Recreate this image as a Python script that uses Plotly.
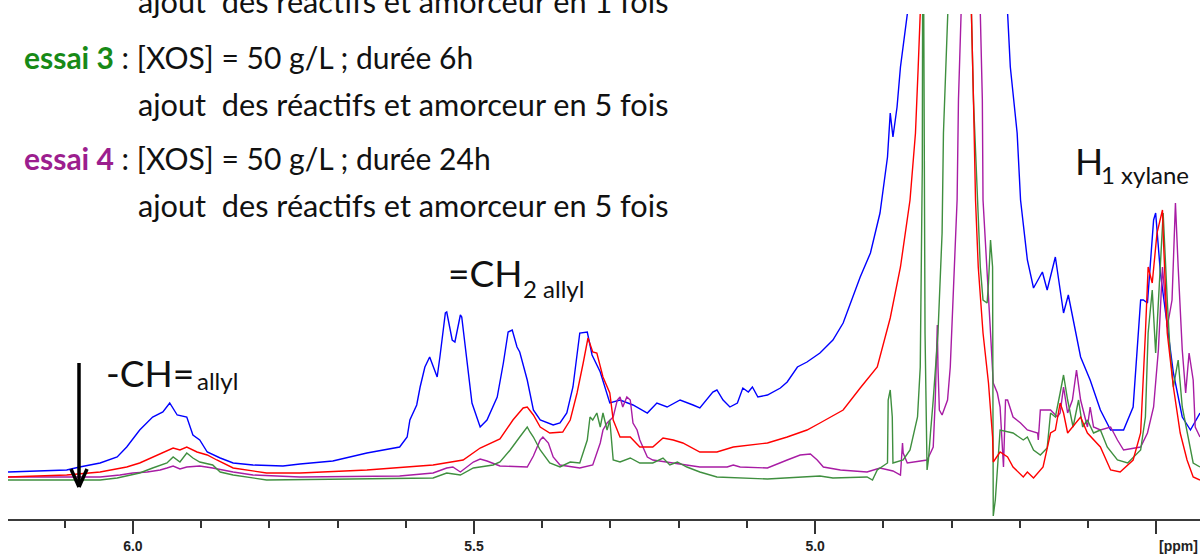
import plotly.graph_objects as go

# ---------------- data (chemical shift in ppm, intensity in arbitrary units) ----------------
blue_ppm = [6.183, 6.097, 6.078, 6.048, 6.023, 6.009, 5.990, 5.971, 5.956, 5.946, 5.935, 5.921, 5.912,
            5.902, 5.891, 5.872, 5.853, 5.824, 5.780, 5.755, 5.707, 5.657, 5.609, 5.598, 5.594, 5.584,
            5.579, 5.572, 5.565, 5.554, 5.550, 5.542, 5.540, 5.532, 5.528, 5.520, 5.518, 5.510, 5.503,
            5.491, 5.481, 5.466, 5.457, 5.450, 5.444, 5.437, 5.433, 5.422, 5.413, 5.403, 5.384, 5.374,
            5.364, 5.355, 5.345, 5.334, 5.327, 5.315, 5.301, 5.286, 5.267, 5.246, 5.232, 5.217, 5.198,
            5.179, 5.169, 5.150, 5.144, 5.135, 5.125, 5.114, 5.106, 5.098, 5.092, 5.084, 5.070, 5.051,
            5.041, 5.026, 5.012, 4.993, 4.974, 4.959, 4.946, 4.934, 4.919, 4.905, 4.894, 4.890, 4.886,
            4.880, 4.875, 4.865, 4.790, 4.718, 4.714, 4.704, 4.699, 4.689, 4.680, 4.667, 4.660, 4.648,
            4.636, 4.629, 4.611, 4.597, 4.582, 4.567, 4.548, 4.534, 4.523, 4.519, 4.513, 4.504, 4.501,
            4.494, 4.484, 4.475, 4.462, 4.450, 4.436]
blue_int = [47, 49, 52, 56, 62, 72, 89, 102, 107, 116, 104, 102, 84,
            79, 67, 61, 56, 54, 53, 55, 58, 66, 72, 82, 99, 114,
            132, 152, 162, 142, 162, 206, 207, 179, 177, 204, 202, 159, 116,
            92, 99, 122, 156, 187, 189, 172, 167, 139, 109, 99, 94, 96,
            106, 132, 186, 187, 164, 147, 116, 119, 114, 106, 116, 112, 119,
            114, 111, 127, 129, 119, 112, 116, 131, 127, 132, 122, 124, 131,
            137, 152, 157, 166, 179, 196, 219, 242, 266, 306, 362, 406, 382,
            412, 452, 506, 900, 506, 452, 386, 319, 259, 231, 247, 229, 262,
            206, 224, 162, 139, 109, 89, 89, 112, 219, 219, 216, 299, 306,
            246, 192, 146, 102, 89, 106]

red_ppm = [6.183, 6.097, 6.048, 6.009, 5.990, 5.965, 5.941, 5.931, 5.921, 5.906, 5.891, 5.877, 5.853,
           5.804, 5.755, 5.657, 5.560, 5.516, 5.491, 5.462, 5.443, 5.428, 5.422, 5.413, 5.403, 5.389,
           5.370, 5.359, 5.349, 5.340, 5.333, 5.326, 5.320, 5.311, 5.301, 5.296, 5.286, 5.271, 5.257,
           5.238, 5.223, 5.208, 5.194, 5.169, 5.144, 5.120, 5.070, 5.041, 5.012, 4.993, 4.959, 4.934,
           4.909, 4.890, 4.875, 4.861, 4.853, 4.849, 4.846, 4.809, 4.771, 4.768, 4.765, 4.761, 4.754,
           4.746, 4.740, 4.739, 4.729, 4.718, 4.710, 4.695, 4.689, 4.680, 4.666, 4.655, 4.648, 4.641,
           4.636, 4.630, 4.611, 4.601, 4.582, 4.567, 4.553, 4.534, 4.523, 4.516, 4.512, 4.506, 4.499,
           4.491, 4.490, 4.484, 4.475, 4.465, 4.455, 4.446, 4.436]
red_int = [42, 44, 47, 52, 56, 64, 71, 69, 72, 67, 64, 59, 51,
           46, 46, 49, 54, 59, 71, 80, 99, 111, 112, 104, 92, 86,
           87, 99, 126, 156, 181, 167, 166, 142, 126, 99, 82, 82, 72,
           72, 81, 79, 76, 67, 67, 72, 76, 82, 89, 96, 109, 131,
           152, 201, 252, 319, 386, 452, 506, 700, 506, 419, 319, 252, 186,
           136, 82, 57, 67, 62, 52, 42, 47, 41, 52, 86, 89, 116,
           106, 86, 102, 86, 72, 49, 47, 59, 86, 186, 252, 236, 286,
           309, 286, 186, 132, 86, 59, 42, 39]

green_ppm = [6.183, 6.048, 6.023, 5.990, 5.971, 5.950, 5.941, 5.931, 5.921, 5.912, 5.902, 5.883, 5.872,
             5.853, 5.804, 5.560, 5.540, 5.520, 5.501, 5.472, 5.462, 5.447, 5.433, 5.422, 5.418, 5.413,
             5.403, 5.389, 5.374, 5.359, 5.345, 5.334, 5.330, 5.326, 5.320, 5.315, 5.311, 5.305, 5.301,
             5.296, 5.286, 5.271, 5.257, 5.238, 5.223, 5.213, 5.202, 5.188, 5.169, 5.144, 5.070, 4.993,
             4.974, 4.924, 4.916, 4.909, 4.894, 4.893, 4.890, 4.887, 4.886, 4.871, 4.861, 4.850, 4.846,
             4.845, 4.843, 4.842, 4.840, 4.839, 4.836, 4.834, 4.831, 4.827, 4.820, 4.814, 4.812, 4.809,
             4.808, 4.790, 4.771, 4.768, 4.762, 4.758, 4.754, 4.748, 4.746, 4.743, 4.740, 4.739, 4.736,
             4.733, 4.729, 4.710, 4.695, 4.689, 4.680, 4.670, 4.660, 4.655, 4.648, 4.641, 4.636, 4.630,
             4.622, 4.614, 4.608, 4.601, 4.592, 4.582, 4.572, 4.557, 4.542, 4.523, 4.516, 4.512, 4.506,
             4.501, 4.497, 4.490, 4.484, 4.480, 4.475, 4.468, 4.462, 4.455, 4.446, 4.436]
green_int = [39, 39, 41, 46, 51, 56, 62, 57, 66, 61, 57, 54, 47,
             44, 39, 41, 46, 44, 51, 54, 57, 69, 82, 92, 87, 82,
             69, 56, 52, 57, 56, 79, 102, 99, 106, 92, 106, 89, 99,
             59, 57, 61, 56, 56, 61, 54, 57, 52, 47, 42, 40, 43,
             41, 42, 39, 49, 56, 119, 129, 102, 56, 59, 69, 102, 152,
             252, 352, 700, 419, 186, 49, 59, 86, 119, 186, 286, 386, 469,
             506, 800, 506, 419, 319, 252, 219, 216, 236, 279, 252, 3, 19,
             52, 89, 86, 79, 82, 69, 64, 71, 106, 102, 126, 144, 119,
             92, 119, 92, 99, 86, 89, 72, 59, 56, 69, 102, 186, 229,
             166, 219, 306, 219, 169, 132, 159, 112, 86, 56, 52]

purple_ppm = [6.183, 6.048, 6.019, 6.000, 5.979, 5.960, 5.950, 5.941, 5.931, 5.921, 5.902, 5.883, 5.853,
              5.824, 5.755, 5.609, 5.560, 5.540, 5.531, 5.520, 5.501, 5.491, 5.481, 5.462, 5.422, 5.413,
              5.403, 5.399, 5.391, 5.384, 5.374, 5.345, 5.326, 5.315, 5.311, 5.305, 5.296, 5.290, 5.286,
              5.282, 5.276, 5.271, 5.267, 5.261, 5.257, 5.246, 5.238, 5.217, 5.169, 5.129, 5.120, 5.110,
              5.070, 5.041, 5.022, 5.007, 4.997, 4.988, 4.963, 4.924, 4.905, 4.886, 4.875, 4.872, 4.871,
              4.865, 4.836, 4.831, 4.827, 4.824, 4.821, 4.820, 4.818, 4.814, 4.806, 4.802, 4.798, 4.792,
              4.790, 4.787, 4.773, 4.758, 4.755, 4.754, 4.748, 4.743, 4.739, 4.733, 4.729, 4.724, 4.721,
              4.718, 4.710, 4.699, 4.689, 4.674, 4.673, 4.670, 4.655, 4.645, 4.641, 4.636, 4.630, 4.623,
              4.617, 4.611, 4.601, 4.597, 4.592, 4.582, 4.567, 4.557, 4.548, 4.534, 4.523, 4.513, 4.504,
              4.497, 4.491, 4.487, 4.484, 4.477, 4.472, 4.468, 4.462, 4.457, 4.452, 4.446, 4.443, 4.436]
purple_int = [42, 42, 44, 46, 47, 49, 51, 53, 50, 52, 53, 51, 47,
              44, 42, 43, 46, 51, 52, 47, 57, 60, 58, 53, 52, 63,
              79, 82, 76, 62, 54, 51, 54, 76, 89, 96, 102, 119, 122,
              112, 122, 119, 96, 89, 79, 62, 59, 57, 52, 52, 54, 52,
              51, 59, 64, 65, 59, 52, 49, 47, 51, 48, 44, 76, 66,
              56, 59, 66, 72, 119, 194, 152, 109, 104, 119, 152, 219, 319,
              419, 506, 800, 506, 419, 319, 252, 186, 136, 126, 112, 52, 119,
              119, 102, 96, 89, 86, 79, 109, 109, 102, 106, 132, 106, 119,
              149, 119, 92, 112, 92, 89, 92, 79, 69, 71, 72, 86, 112,
              169, 252, 219, 192, 219, 316, 252, 169, 126, 166, 139, 92, 82]

series_names = ["essai 1", "essai 2", "essai 3", "essai 4"]
series_colors = ["#0000ff", "#ff0000", "#3f8f3f", "#a81ca4"]

tick_values = [6.0, 5.5, 5.0, 4.5]
tick_labels = ["6.0", "5.5", "5.0", ""]

# ---------------- figure ----------------
W, H = 1200, 557
L, R, T, B = 8, 0, 14, 38
fig = go.Figure()

for name, xs, ys, col in [
    (series_names[0], blue_ppm, blue_int, series_colors[0]),
    (series_names[3], purple_ppm, purple_int, series_colors[3]),
    (series_names[2], green_ppm, green_int, series_colors[2]),
    (series_names[1], red_ppm, red_int, series_colors[1]),
]:
    fig.add_trace(go.Scatter(x=xs, y=ys, mode="lines", name=name,
                             line=dict(color=col, width=1.4), hoverinfo="skip"))


def px_x(px):
    return (px - L) / (W - L - R)


def px_y(py):
    return (H - B - py) / (H - T - B)


ann = []
txt_font = dict(family="Lato", size=30, color="#111111")
ajout_font = dict(family="Lato", size=30.7, color="#111111")
lines = [
    (136, 2, "ajout\u00a0 des réactifs et amorceur en 1 fois", ajout_font),
    (22, 57, "<span style='color:#178a17'><b>essai 3</b></span> : [XOS] = 50 g/L ; durée 6h", txt_font),
    (136, 104, "ajout\u00a0 des réactifs et amorceur en 5 fois", ajout_font),
    (22, 158, "<span style='color:#9c1e8e'><b>essai 4</b></span> : [XOS] = 50 g/L ; durée 24h", txt_font),
    (136, 205, "ajout\u00a0 des réactifs et amorceur en 5 fois", ajout_font),
]
for x0, yc, t, f in lines:
    ann.append(dict(x=px_x(x0), y=px_y(yc), xref="paper", yref="paper", text=t,
                    showarrow=False, xanchor="left", yanchor="middle", font=f))

big = dict(family="Lato", size=37, color="#111111")
small = dict(family="Lato", size=24, color="#111111")
labels = [
    (446, 272, "=CH", big), (521, 288, "2 allyl", small),
    (104, 372, "-CH=", big), (195, 380, "allyl", small),
    (1073, 160, "H", big), (1099, 175, "1 xylane", small),
]
for x0, yc, t, f in labels:
    ann.append(dict(x=px_x(x0), y=px_y(yc), xref="paper", yref="paper", text=t,
                    showarrow=False, xanchor="left", yanchor="middle", font=f))

ann.append(dict(x=px_x(1178), y=px_y(546), xref="paper", yref="paper", text="[ppm]",
                showarrow=False, xanchor="center", yanchor="middle",
                font=dict(family="Liberation Sans", size=14, color="#222222", weight="bold")))

shapes = [
    dict(type="line", xref="paper", yref="paper", x0=px_x(79), x1=px_x(79), y0=px_y(363), y1=px_y(485),
         line=dict(color="black", width=3.5)),
    dict(type="line", xref="paper", yref="paper", x0=px_x(71), x1=px_x(79), y0=px_y(469), y1=px_y(487),
         line=dict(color="black", width=3.5)),
    dict(type="line", xref="paper", yref="paper", x0=px_x(87), x1=px_x(79), y0=px_y(469), y1=px_y(487),
         line=dict(color="black", width=3.5)),
]

fig.update_layout(
    width=W, height=H,
    margin=dict(l=L, r=R, t=T, b=B, pad=0),
    paper_bgcolor="white", plot_bgcolor="white",
    showlegend=False,
    annotations=ann, shapes=shapes,
    xaxis=dict(range=[6.183, 4.436], showgrid=False, zeroline=False, automargin=False,
               showline=True, linecolor="#3a3a3a", linewidth=2,
               tickmode="array", tickvals=tick_values, ticktext=tick_labels,
               ticks="outside", ticklen=13, tickwidth=1.5, tickcolor="#333333",
               tickfont=dict(family="Liberation Sans", size=14, color="#222222", weight="bold"),
               minor=dict(dtick=0.1, tick0=0, ticks="outside", ticklen=7, tickwidth=1.5,
                          tickcolor="#333333", showgrid=False)),
    yaxis=dict(range=[0, 505], visible=False, showgrid=False, zeroline=False, automargin=False),
)

fig.write_html("out.html", config={"displayModeBar": False},
               post_script="document.body.style.margin='0';")
